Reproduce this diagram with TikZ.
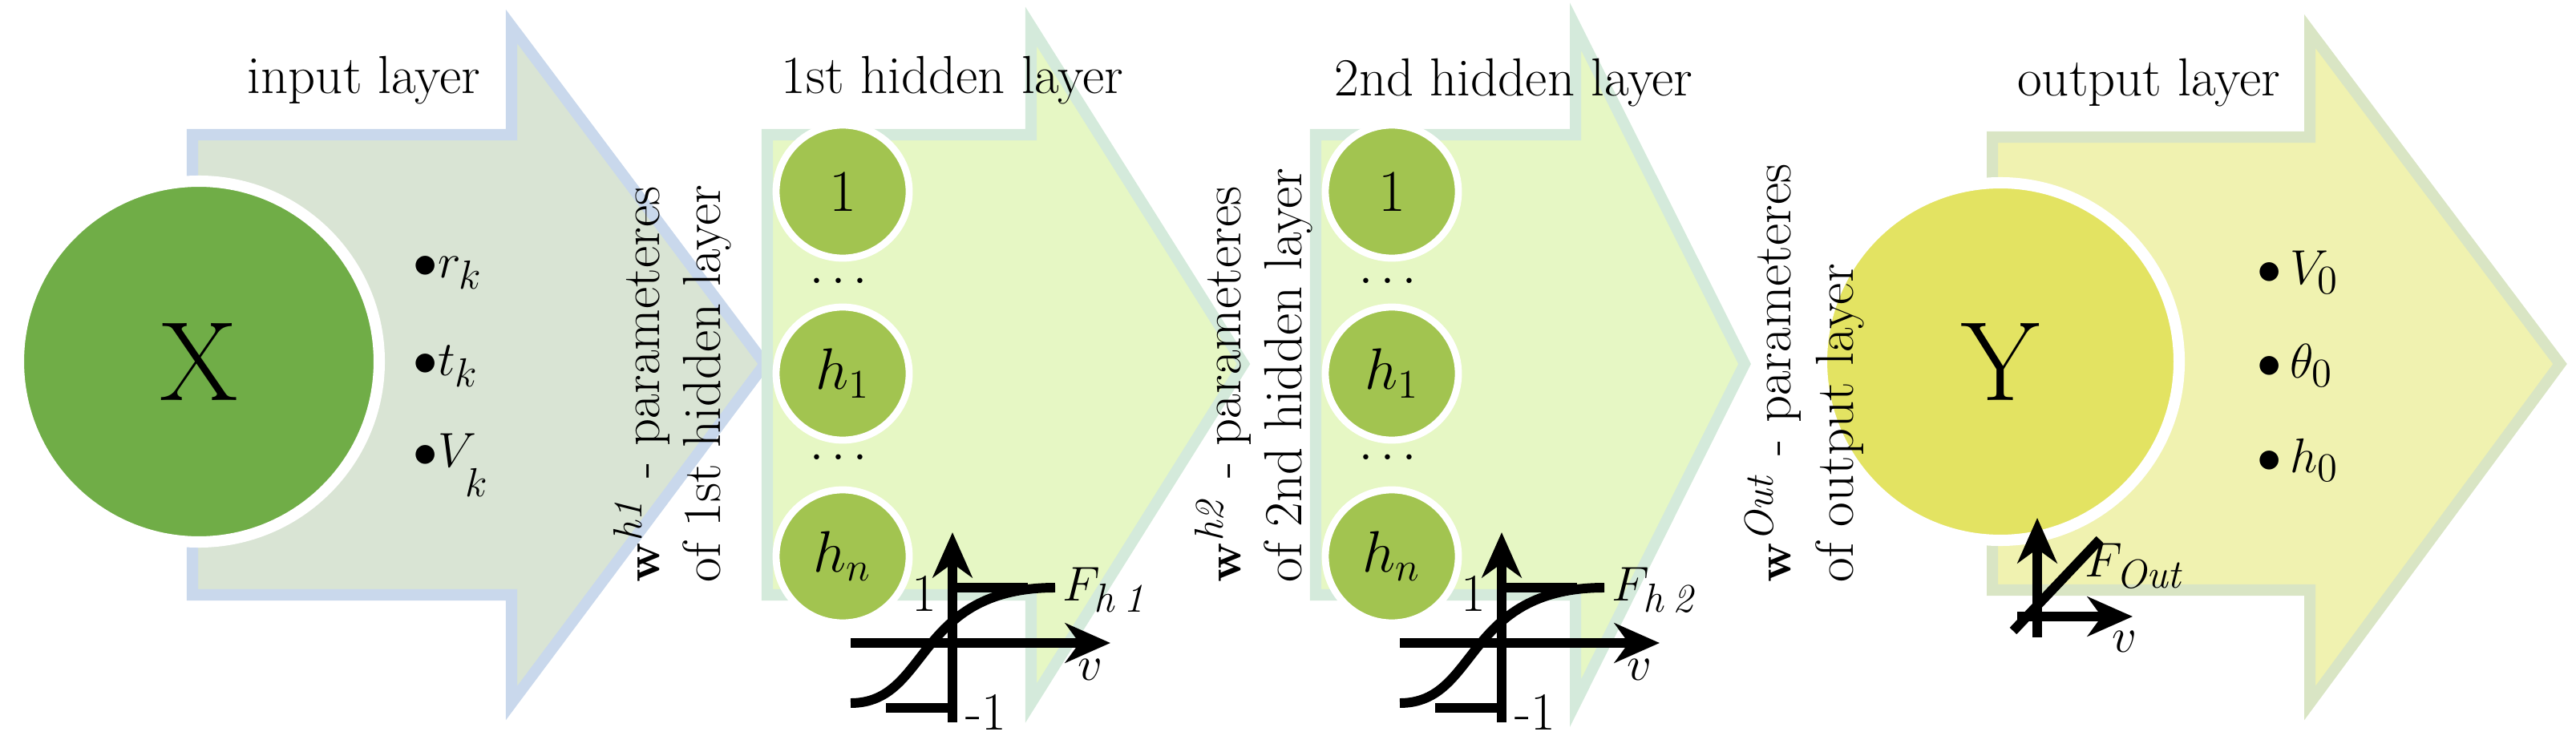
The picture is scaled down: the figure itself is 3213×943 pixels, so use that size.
\documentclass[tikz,border=0pt]{standalone}
\usepackage{amsmath}
\usetikzlibrary{arrows.meta}

\definecolor{inputfill}{RGB}{217,228,212}
\definecolor{inputline}{RGB}{201,216,236}
\definecolor{hiddenfill}{RGB}{230,247,196}
\definecolor{hiddenline}{RGB}{212,234,219}
\definecolor{outputfill}{RGB}{240,242,176}
\definecolor{outputline}{RGB}{217,229,196}
\definecolor{xgreen}{RGB}{112,173,71}
\definecolor{hgreen}{RGB}{162,196,80}
\definecolor{yyellow}{RGB}{227,227,98}

% layer arrow: left, head base, tip, body top, body bottom, head top, head bottom
\newcommand{\layerarrow}[9]{%
  \draw[layer,fill=#8,draw=#9] (#1,#4) -- (#2,#4) -- (#2,#6) -- (#3,454)
    -- (#2,#7) -- (#2,#5) -- (#1,#5) -- cycle;}

\tikzset{
  layer/.style={line width=4pt,line join=miter},
  title/.style={font=\fontsize{19}{22}\selectfont},
  param/.style={font=\fontsize{19}{22}\selectfont,rotate=90,anchor=west,inner sep=0pt},
  big/.style={circle,draw=white,line width=4pt,minimum size=450\pxu,inner sep=0pt,font=\fontsize{40}{44}\selectfont},
  unit/.style={circle,fill=hgreen,draw=white,line width=2.5pt,minimum size=166\pxu,inner sep=0pt,font=\fontsize{21}{24}\selectfont},
  item/.style={font=\fontsize{19}{22}\selectfont,anchor=west,inner sep=0pt},
  axis/.style={line width=3.4pt,-{Stealth[length=16pt,width=14pt,inset=5pt]}},
  curve/.style={line width=3.4pt},
  small/.style={font=\fontsize{19}{22}\selectfont,inner sep=0pt},
}
\newlength{\pxu}
\setlength{\pxu}{0.01cm}

\begin{document}
\begin{tikzpicture}[x=0.01cm,y=-0.01cm]
\useasboundingbox (0,0) rectangle (3213,943);

% layer arrows
\layerarrow{240}{638}{954}{168}{742}{33}{877}{inputfill}{inputline}
\layerarrow{957}{1286}{1551}{168}{742}{33}{877}{hiddenfill}{hiddenline}
\layerarrow{1641}{1965}{2176}{168}{742}{33}{877}{hiddenfill}{hiddenline}
\layerarrow{2485}{2881}{3193}{171}{736}{39}{877}{outputfill}{outputline}

% titles
\node[title] (tin) at (454,100) {input layer};
\node[title] (th1) at (1188,100) {1st hidden layer};
\node[title] (th2) at (1888,103) {2nd hidden layer};
\node[title] (tout) at (2680,103) {output layer};

% input
\node[big,fill=xgreen] (X) at (248,451) {X};
\node[item] (rk) at (515,340) {$\bullet r_k$};
\node[item] (tk) at (515,457) {$\bullet t_k$};
\node[item] (Vk) at (515,580) {$\bullet V_{\raisebox{-8pt}{$\scriptstyle k$}}$};

% parameters between layers
\node[param] (p1a) at (800,727) {$\mathbf{w}^{\mathit{h1}}$ - parameteres};
\node[param] (p1b) at (882,727) {of 1st hidden layer};
\node[param] (p2a) at (1525,727) {$\mathbf{w}^{\mathit{h2}}$ - parameteres};
\node[param] (p2b) at (1607,727) {of 2nd hidden layer};

% hidden layers
\foreach \hx/\hl in {1051/1,1736/2}{
  \node[unit] (u\hl a) at (\hx,239) {1};
  \node[unit] (u\hl b) at (\hx,466) {$h_1$};
  \node[unit] (u\hl c) at (\hx,694) {$h_n$};
  \node[small] (d\hl a) at (\hx,352) {$\cdots$};
  \node[small] (d\hl b) at (\hx,572) {$\cdots$};
  % activation function
  \begin{scope}[xshift=(\hx-1051)*\pxu]
    \coordinate (v\hl b) at (1188,901);
    \coordinate (v\hl t) at (1188,664);
    \coordinate (a\hl l) at (1061,802);
    \coordinate (a\hl r) at (1385,802);
    \draw[axis] (v\hl b) -- (v\hl t);
    \draw[axis] (a\hl l) -- (a\hl r);
    \draw[curve] (1188,733) -- (1282,733);
    \draw[curve] (1105,883) -- (1188,883);
    \draw[curve] (1061,877) .. controls (1160,877) and (1140,733) .. (1316,733);
    \node[small] (one\hl) at (1153,740) {1};
    \node[small] (mone\hl) at (1230,888) {-1};
    \node[small,anchor=west] (F\hl) at (1325,736) {$F_{\mathit{h\,\hl}}$};
    \node[small] (vv\hl) at (1360,835) {$v$};
  \end{scope}
}

% output
\node[big,fill=yyellow,minimum size=446\pxu] (Y) at (2495,451) {Y};
\node[param] (p3a) at (2212,727) {$\mathbf{w}^{\mathit{Out}}$ - parameteres};
\node[param] (p3b) at (2295,727) {of output layer};
\node[item] (V0) at (2815,340) {$\bullet\, V_0$};
\node[item] (th0) at (2815,456) {$\bullet\, \theta_0$};
\node[item] (h0) at (2815,574) {$\bullet\, h_0$};

\coordinate (ob) at (2541,795);
\coordinate (ot) at (2541,646);
\coordinate (ol) at (2516,769);
\coordinate (or) at (2660,769);
\coordinate (dl) at (2511,787);
\coordinate (dr) at (2619,673);
\draw[axis] (ob) -- (ot);
\draw[axis] (ol) -- (or);
\draw[curve] (dl) -- (dr);
\node[small,anchor=west] (FO) at (2600,706) {$F_{\mathit{Out}}$};
\node[small] (vo) at (2650,800) {$v$};
\end{tikzpicture}
\end{document}
